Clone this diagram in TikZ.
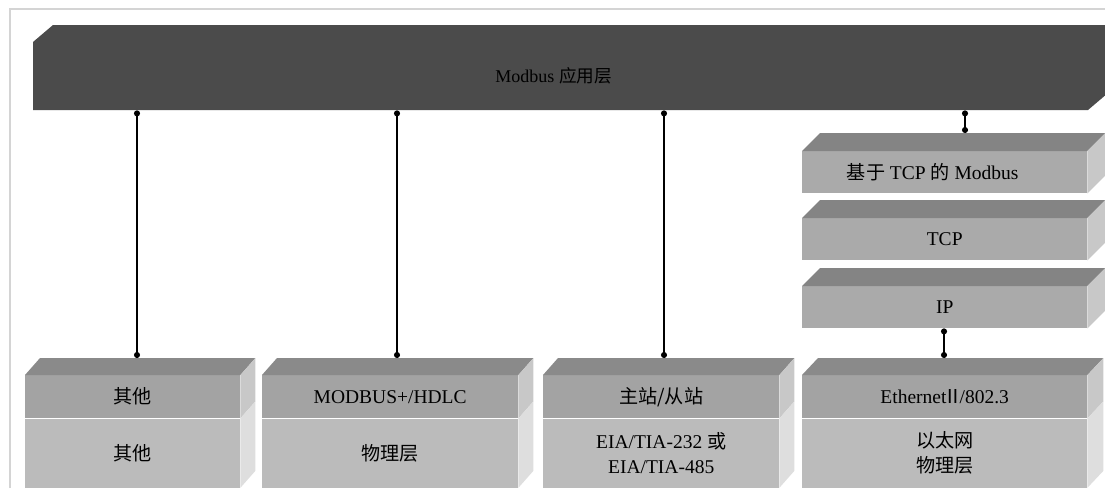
\documentclass[tikz,border=0pt]{standalone}
\usepackage{fontspec}
\setmainfont{Liberation Serif}
\newfontfamily\cjk[Scale=0.98]{Noto Sans CJK SC}
\usepackage{xcolor}
\usetikzlibrary{arrows.meta}
\usetikzlibrary{calc}

\definecolor{barcol}{HTML}{4B4B4B}
\definecolor{topgray}{HTML}{8A8A8A}
\definecolor{upgray}{HTML}{A3A3A3}
\definecolor{lowgray}{HTML}{BBBBBB}
\definecolor{sideup}{HTML}{C8C8C8}
\definecolor{sidelow}{HTML}{DEDEDE}
\definecolor{stackgray}{HTML}{AAAAAA}
\definecolor{stacktop}{HTML}{848484}
\definecolor{framegray}{HTML}{D4D4D4}

\begin{document}
\begin{tikzpicture}[x=1pt, y=-1pt,
  face/.style={draw=none, inner sep=0pt, anchor=north west, align=center,
    font=\fontsize{19.5}{25}\selectfont},
  upface/.style={face, fill=upgray, minimum height=43pt},
  lowface/.style={face, fill=lowgray, minimum height=69pt},
  stackface/.style={face, fill=stackgray, minimum width=285pt, minimum height=42pt},
  link/.style={line width=1.3pt, {Circle[length=6pt]}-{Circle[length=6pt]}}
]
\clip (0,0) rectangle (1105,488);

% frame
\draw[framegray, line width=1.2pt] (10,488) -- (10,9) -- (1105,9);

% application layer bar
\fill[barcol] (33,110) -- (33,42) -- (53,25) -- (1108,25) -- (1108,93) -- (1088,110) -- cycle;
\node[face, minimum width=1055pt, minimum height=68pt, text=black, font=\fontsize{18}{22}\selectfont] (app) at (33,42) {\hspace*{-14pt}Modbus {\cjk 应用层}};

% box 1
\node[upface, minimum width=215pt] (up1) at (25,375) {\cjk 其他};
\node[lowface, minimum width=215pt] (low1) at (up1.south west) {\cjk 其他};
\fill[topgray] (up1.north west) -- ++(15,-17) coordinate (back1) -- ($(up1.north east)+(15,-17)$) -- (up1.north east) -- cycle;
\fill[sideup] (up1.north east) -- ++(15,-17) -- ($(up1.south east)+(15,-17)$) -- (up1.south east) -- cycle;
\fill[sidelow] (low1.north east) -- ++(15,-17) -- ($(low1.south east)+(15,-17)$) -- (low1.south east) -- cycle;

% box 2
\node[upface, minimum width=256pt] (up2) at (262,375) {MODBUS+/HDLC};
\node[lowface, minimum width=256pt] (low2) at (up2.south west) {\cjk 物理层};
\fill[topgray] (up2.north west) -- ++(15,-17) coordinate (back2) -- ($(up2.north east)+(15,-17)$) -- (up2.north east) -- cycle;
\fill[sideup] (up2.north east) -- ++(15,-17) -- ($(up2.south east)+(15,-17)$) -- (up2.south east) -- cycle;
\fill[sidelow] (low2.north east) -- ++(15,-17) -- ($(low2.south east)+(15,-17)$) -- (low2.south east) -- cycle;

% box 3
\node[upface, minimum width=236pt] (up3) at (543,375) {\cjk 主站/从站};
\node[lowface, minimum width=236pt] (low3) at (up3.south west) {EIA/TIA-232 {\cjk 或}\\EIA/TIA-485};
\fill[topgray] (up3.north west) -- ++(15,-17) coordinate (back3) -- ($(up3.north east)+(15,-17)$) -- (up3.north east) -- cycle;
\fill[sideup] (up3.north east) -- ++(15,-17) -- ($(up3.south east)+(15,-17)$) -- (up3.south east) -- cycle;
\fill[sidelow] (low3.north east) -- ++(15,-17) -- ($(low3.south east)+(15,-17)$) -- (low3.south east) -- cycle;

% box 4
\node[upface, minimum width=285pt] (up4) at (802,375) {Ethernet{\cjk\hspace*{-3pt}Ⅱ\hspace*{-3pt}}/802.3};
\node[lowface, minimum width=285pt] (low4) at (up4.south west) {\cjk 以太网\\\cjk 物理层};
\fill[topgray] (up4.north west) -- ++(16,-17) coordinate (back4) -- ($(up4.north east)+(16,-17)$) -- (up4.north east) -- cycle;
\fill[sideup] (up4.north east) -- ++(16,-17) -- ($(up4.south east)+(16,-17)$) -- (up4.south east) -- cycle;
\fill[sidelow] (low4.north east) -- ++(16,-17) -- ($(low4.south east)+(16,-17)$) -- (low4.south east) -- cycle;

% tcp/ip stack
\node[stackface] (tcpmb) at (802,151) {\hspace*{-24pt}{\cjk 基于} TCP {\cjk 的} Modbus};
\fill[stacktop] (tcpmb.north west) -- ++(18,-18) coordinate (backmb) -- ($(tcpmb.north east)+(18,-18)$) -- (tcpmb.north east) -- cycle;
\fill[sideup] (tcpmb.north east) -- ++(18,-18) -- ($(tcpmb.south east)+(18,-18)$) -- (tcpmb.south east) -- cycle;

\node[stackface] (tcp) at (802,218) {TCP};
\fill[stacktop] (tcp.north west) -- ++(18,-18) -- ($(tcp.north east)+(18,-18)$) -- (tcp.north east) -- cycle;
\fill[sideup] (tcp.north east) -- ++(18,-18) -- ($(tcp.south east)+(18,-18)$) -- (tcp.south east) -- cycle;

\node[stackface] (ip) at (802,286) {IP};
\fill[stacktop] (ip.north west) -- ++(18,-18) -- ($(ip.north east)+(18,-18)$) -- (ip.north east) -- cycle;
\fill[sideup] (ip.north east) -- ++(18,-18) -- ($(ip.south east)+(18,-18)$) -- (ip.south east) -- cycle;

% connectors
\coordinate (c1) at (137,0);
\coordinate (c2) at (397,0);
\coordinate (c3) at (664,0);
\coordinate (c4) at (965,0);
\coordinate (c5) at (944,0);

\draw[link] (app.south -| c1) -- (back1 -| c1);
\draw[link] (app.south -| c2) -- (back2 -| c2);
\draw[link] (app.south -| c3) -- (back3 -| c3);
\draw[link] (app.south -| c4) -- (backmb -| c4);
\draw[link] (ip.south -| c5) -- (back4 -| c5);

\end{tikzpicture}
\end{document}
